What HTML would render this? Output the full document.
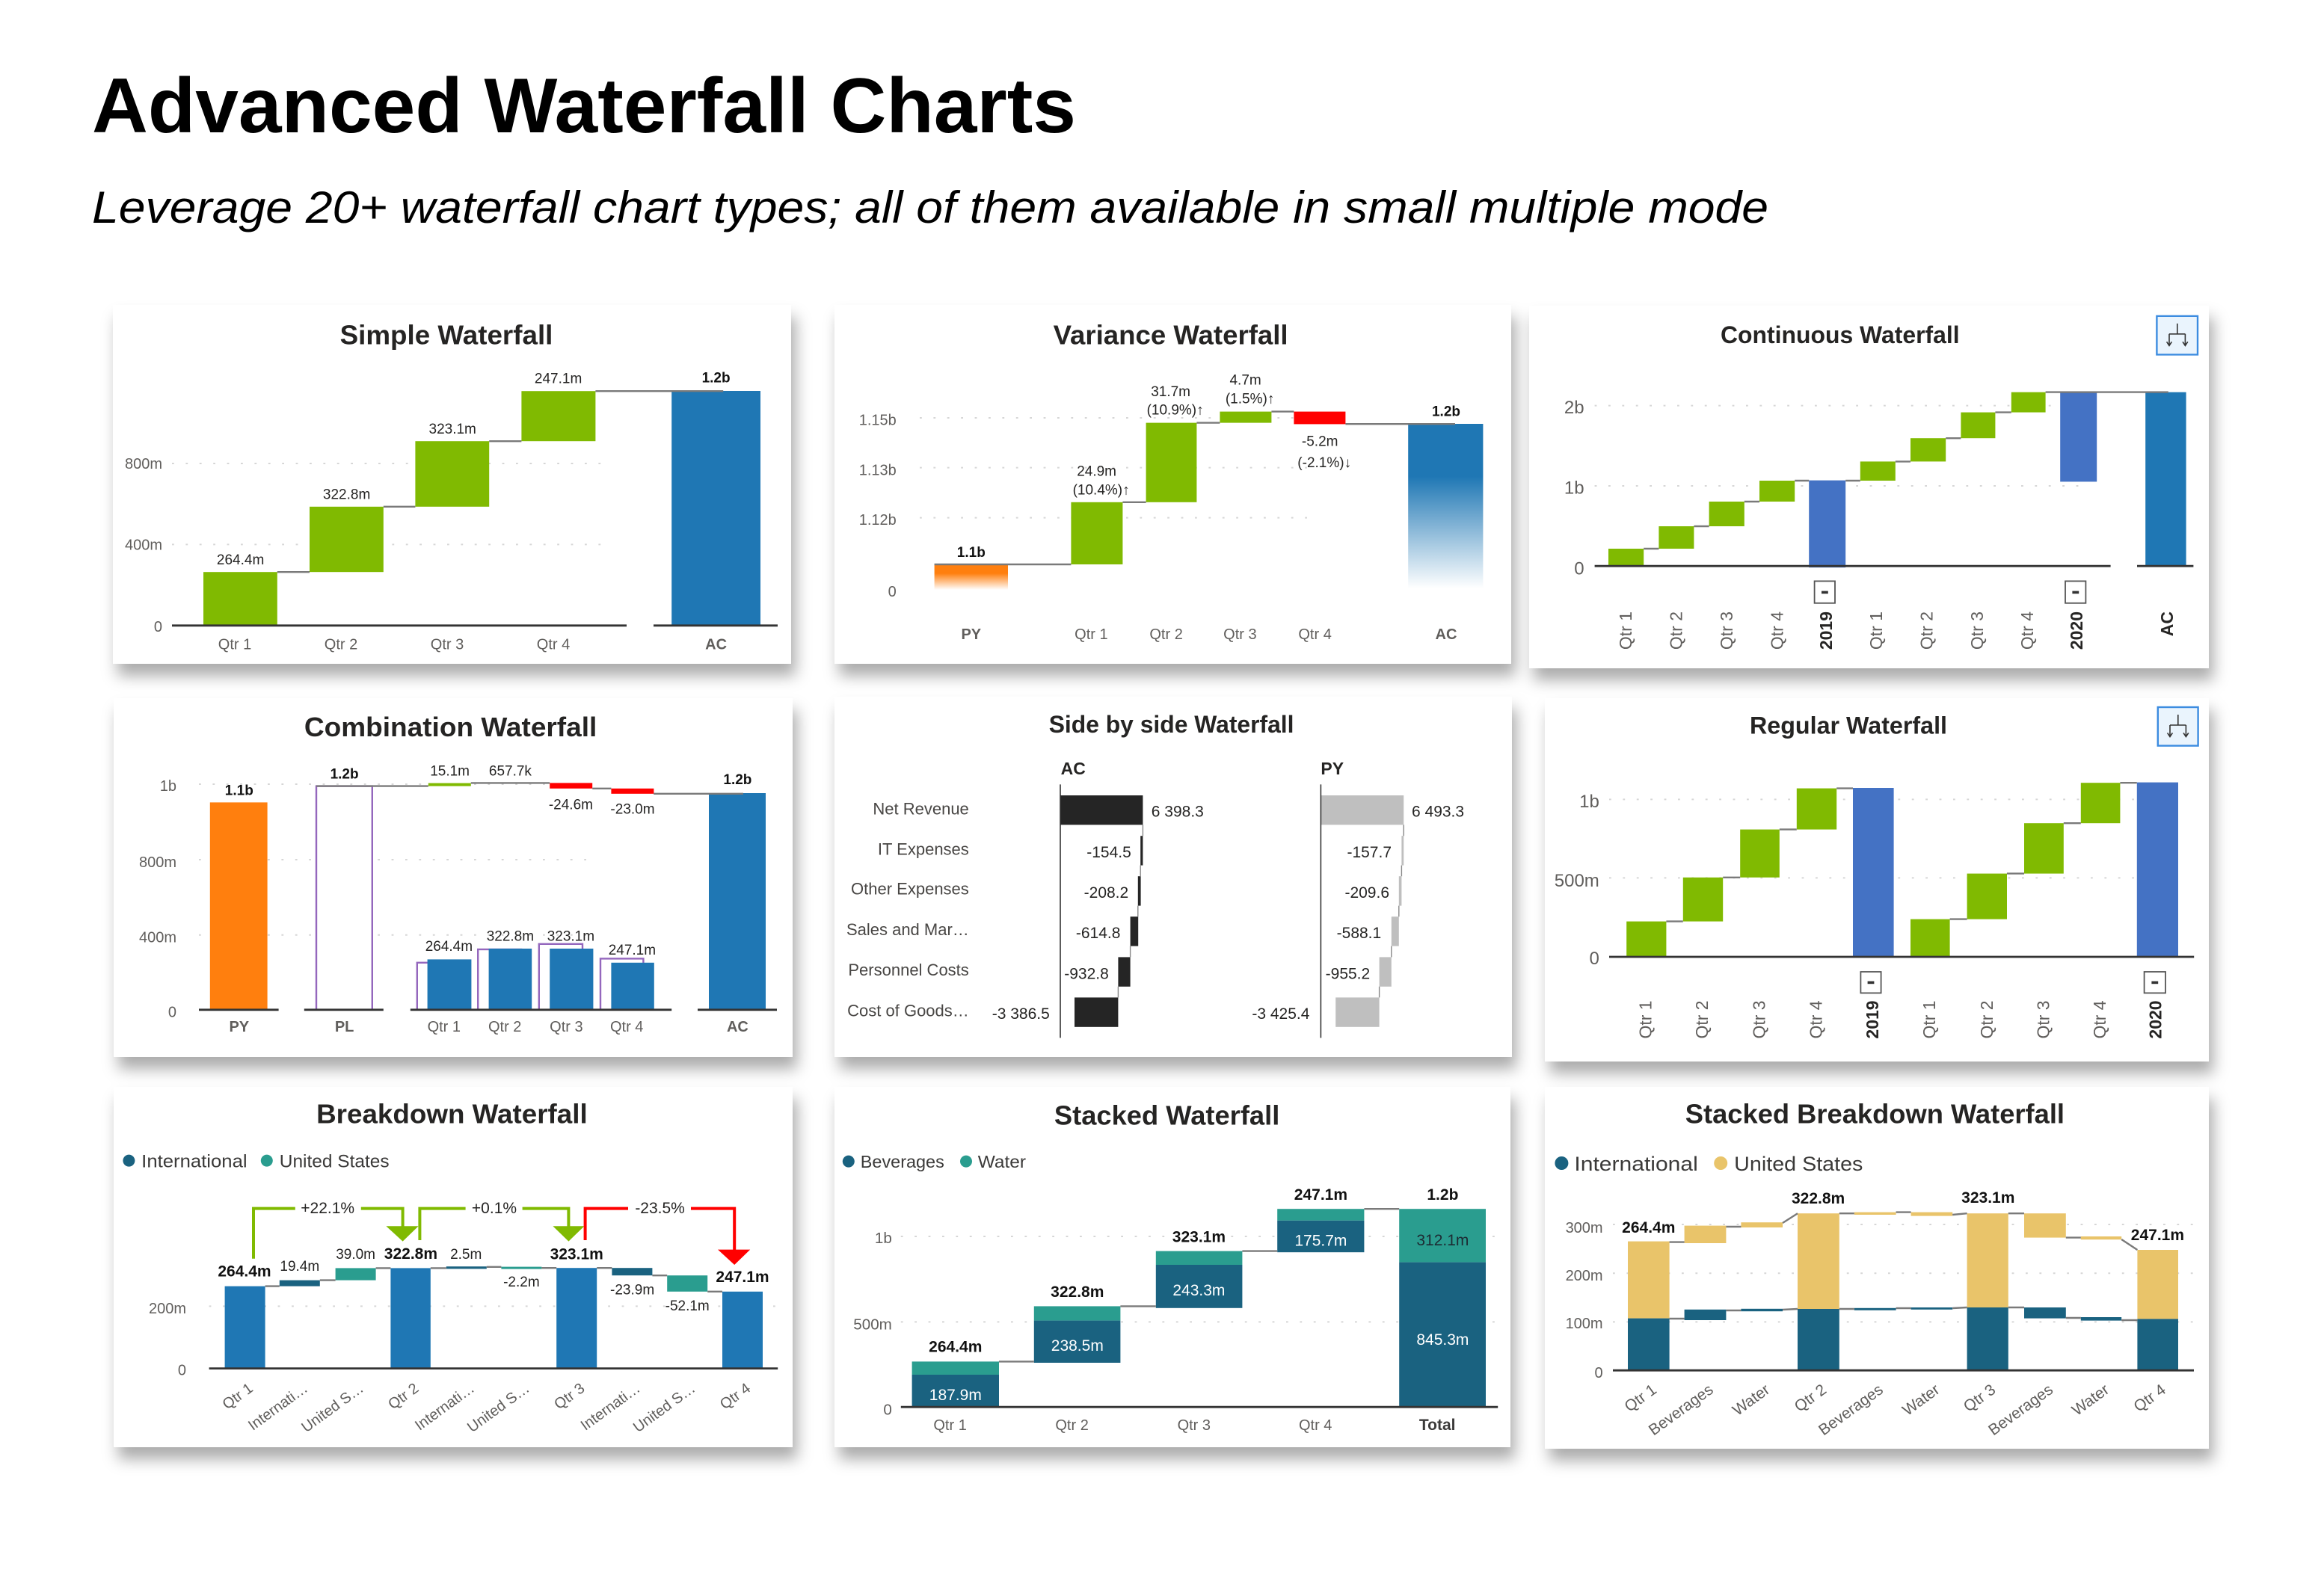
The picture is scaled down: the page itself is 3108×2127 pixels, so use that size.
<!DOCTYPE html>
<html><head><meta charset="utf-8">
<style>
html,body{margin:0;padding:0;background:#fff;}
body{width:3108px;height:2127px;overflow:hidden;}
svg{display:block;}
text{font-family:"Liberation Sans",Arial,sans-serif;}
.t{font-weight:bold;font-size:18px;fill:#252423;text-anchor:middle;}
.ay{font-size:10px;fill:#605E5C;text-anchor:end;}
.v{font-size:9.5px;fill:#252423;text-anchor:middle;}
.b{font-weight:bold;fill:#111;}
.xl{font-size:10px;fill:#605E5C;text-anchor:middle;}
.grid{stroke:#d6d6d6;stroke-width:1;stroke-dasharray:1.4 7.8;fill:none;}
.base{stroke:#333;stroke-width:1.4;}
.con{stroke:#7a7a7a;stroke-width:1.2;fill:none;}
.g{fill:#80BA01;}
.bl{fill:#1F77B4;}
.sb{fill:#4472C4;}
.rd{fill:#FF0000;}
.dk{fill:#1A6280;}
.tl{fill:#2A9D8F;}
.gd{fill:#E9C46A;}
.rot{font-size:11.5px;fill:#605E5C;text-anchor:end;}
.rotb{font-size:11.5px;fill:#252423;text-anchor:end;font-weight:bold;}
.r36{font-size:10px;fill:#605E5C;text-anchor:end;}
.lg{fill:#3b3a39;}
.row{font-size:11px;fill:#484644;text-anchor:end;}
.sv{font-size:10.5px;fill:#252423;}
</style></head><body>
<svg width="3108" height="2127" viewBox="0 0 1554 1063.5" xmlns="http://www.w3.org/2000/svg">
<defs>
<filter id="sh" x="-10%" y="-10%" width="125%" height="135%">
<feDropShadow dx="3" dy="8" stdDeviation="5" flood-color="#000" flood-opacity="0.33"/>
</filter>
<linearGradient id="og" x1="0" y1="0" x2="0" y2="1"><stop offset="0" stop-color="#FF7F0E"/><stop offset="0.35" stop-color="#FF7F0E"/><stop offset="1" stop-color="#FF7F0E" stop-opacity="0"/></linearGradient>
<linearGradient id="bgr" x1="0" y1="0" x2="0" y2="1"><stop offset="0" stop-color="#1F77B4"/><stop offset="0.32" stop-color="#1F77B4"/><stop offset="1" stop-color="#1F77B4" stop-opacity="0"/></linearGradient>
</defs>

<!-- Header -->
<text x="61.5" y="88.5" font-size="52" font-weight="bold" fill="#000" textLength="658" lengthAdjust="spacingAndGlyphs">Advanced Waterfall Charts</text>
<text x="61.5" y="149" font-size="30" font-style="italic" fill="#000" textLength="1121" lengthAdjust="spacingAndGlyphs">Leverage 20+ waterfall chart types; all of them available in small multiple mode</text>

<!-- Panels -->
<g filter="url(#sh)" fill="#fff">
<rect x="75.5" y="204" width="453.5" height="240"/>
<rect x="558" y="204" width="452.5" height="240"/>
<rect x="1022.5" y="204.5" width="454.5" height="242.5"/>
<rect x="76" y="467" width="454" height="240"/>
<rect x="558" y="466" width="453" height="241"/>
<rect x="1033" y="467" width="444" height="243"/>
<rect x="76" y="727" width="454" height="241"/>
<rect x="558" y="727" width="452" height="241"/>
<rect x="1033" y="727" width="444" height="242"/>
</g>

<!-- P1 Simple -->
<text class="t" x="298.5" y="230.3" textLength="142.4" lengthAdjust="spacingAndGlyphs">Simple Waterfall</text>
<line class="grid" x1="115" x2="403" y1="310" y2="310"/>
<line class="grid" x1="115" x2="403" y1="364.2" y2="364.2"/>
<text class="ay" x="108.5" y="313.6">800m</text>
<text class="ay" x="108.5" y="367.8">400m</text>
<text class="ay" x="108.5" y="422.6">0</text>
<rect class="g" x="136" y="382.6" width="49.4" height="35.8"/>
<rect class="g" x="207" y="338.9" width="49.4" height="43.7"/>
<rect class="g" x="277.7" y="295.1" width="49.4" height="43.8"/>
<rect class="g" x="348.7" y="261.6" width="49.5" height="33.5"/>
<rect class="bl" x="449.1" y="261.5" width="59.4" height="156.9"/>
<path class="con" d="M185.4 382.6H207M256.4 338.9H277.7M327.1 295.1H348.7M398.2 261.6H483.6"/>
<line class="base" x1="115" x2="419" y1="418.4" y2="418.4"/>
<line class="base" x1="437" x2="520" y1="418.4" y2="418.4"/>
<text class="v" x="160.8" y="377.5">264.4m</text>
<text class="v" x="231.8" y="333.8">322.8m</text>
<text class="v" x="302.6" y="290">323.1m</text>
<text class="v" x="373.3" y="256.2">247.1m</text>
<text class="v b" x="478.8" y="255.8">1.2b</text>
<text class="xl" x="157" y="434.2">Qtr 1</text>
<text class="xl" x="228" y="434.2">Qtr 2</text>
<text class="xl" x="299" y="434.2">Qtr 3</text>
<text class="xl" x="370" y="434.2">Qtr 4</text>
<text class="xl b" x="478.8" y="434.2">AC</text>

<!-- P2 Variance -->
<text class="t" x="782.8" y="230.3" textLength="157" lengthAdjust="spacingAndGlyphs">Variance Waterfall</text>
<line class="grid" x1="615" x2="880" y1="279.5" y2="279.5"/>
<line class="grid" x1="615" x2="880" y1="312.8" y2="312.8"/>
<line class="grid" x1="615" x2="880" y1="346.3" y2="346.3"/>
<text class="ay" x="599.4" y="284.3">1.15b</text>
<text class="ay" x="599.4" y="317.7">1.13b</text>
<text class="ay" x="599.4" y="351">1.12b</text>
<text class="ay" x="599.4" y="398.9">0</text>
<rect x="624.8" y="377.5" width="49.2" height="17" fill="url(#og)"/>
<rect class="g" x="716.2" y="335.9" width="34.5" height="41.6"/>
<rect class="g" x="766.3" y="282.8" width="33.9" height="53.1"/>
<rect class="g" x="815.7" y="275.3" width="34.5" height="7.5"/>
<rect class="rd" x="865.2" y="275.3" width="34.5" height="8.4"/>
<rect x="941.6" y="283.5" width="50.1" height="110" fill="url(#bgr)"/>
<path class="con" d="M624.8 377.5H716.2M750.7 335.9H766.3M800.2 282.8H815.7M850.2 275.3H865.2M899.7 283.6H973"/>
<text class="v b" x="649.4" y="372.5">1.1b</text>
<text class="v" x="733.3" y="318.3">24.9m</text>
<text class="v" x="736.3" y="330.8">(10.4%)↑</text>
<text class="v" x="782.8" y="265">31.7m</text>
<text class="v" x="785.8" y="277.2">(10.9%)↑</text>
<text class="v" x="832.8" y="257.2">4.7m</text>
<text class="v" x="835.8" y="269.7">(1.5%)↑</text>
<text class="v" x="882.6" y="298.3">-5.2m</text>
<text class="v" x="885.6" y="312.5">(-2.1%)↓</text>
<text class="v b" x="967" y="278.3">1.2b</text>
<text class="xl b" x="649.4" y="427.5">PY</text>
<text class="xl" x="729.7" y="427.5">Qtr 1</text>
<text class="xl" x="779.8" y="427.5">Qtr 2</text>
<text class="xl" x="829.2" y="427.5">Qtr 3</text>
<text class="xl" x="879.3" y="427.5">Qtr 4</text>
<text class="xl b" x="967" y="427.5">AC</text>

<!-- P3 Continuous -->
<text class="t" x="1230.4" y="229.4" style="font-size:16px" textLength="159.8" lengthAdjust="spacingAndGlyphs">Continuous Waterfall</text>
<g>
<rect x="1442.2" y="211.4" width="27.3" height="25.8" fill="#EAF4FD" stroke="#3C8CE0" stroke-width="1.2"/>
<path d="M1455.9 216.4V223.4M1450.5 223.4H1461.2M1450.5 223.4V231M1461.2 223.4V231M1448.8 228.6L1450.5 231.2L1452.2 228.6M1459.5 228.6L1461.2 231.2L1462.9 228.6" stroke="#333" stroke-width="0.8" fill="none"/>
</g>
<line class="grid" x1="1066.3" x2="1392" y1="271.3" y2="271.3"/>
<line class="grid" x1="1066.3" x2="1392" y1="325" y2="325"/>
<text class="ay" x="1059.3" y="276.6" style="font-size:12px">2b</text>
<text class="ay" x="1059.3" y="330.3" style="font-size:12px">1b</text>
<text class="ay" x="1059.3" y="384.3" style="font-size:12px">0</text>
<rect class="g" x="1075.5" y="367" width="23.6" height="11.6"/>
<rect class="g" x="1109.2" y="352" width="23.5" height="15"/>
<rect class="g" x="1142.8" y="335.5" width="23.6" height="16.5"/>
<rect class="g" x="1176.5" y="321.5" width="23.6" height="14"/>
<rect class="sb" x="1209.6" y="321.3" width="24.5" height="58.3"/>
<rect class="g" x="1243.9" y="308.7" width="23.5" height="12.8"/>
<rect class="g" x="1277.5" y="293.1" width="23.6" height="15.6"/>
<rect class="g" x="1311.2" y="275.8" width="23" height="17.3"/>
<rect class="g" x="1344.9" y="262.3" width="22.9" height="13.5"/>
<rect class="sb" x="1377.6" y="262.3" width="24.5" height="59.9"/>
<rect class="bl" x="1434.6" y="262.3" width="27.2" height="116.3"/>
<path class="con" d="M1099.1 367H1109.2M1132.7 352H1142.8M1166.4 335.5H1176.5M1200.1 321.5H1209.6M1234.1 321.5H1243.9M1267.4 308.7H1277.5M1301.1 293.1H1311.2M1334.2 275.8H1344.9M1367.8 262.3H1449.9"/>
<line class="base" x1="1066.3" x2="1411.3" y1="378.6" y2="378.6"/>
<line class="base" x1="1429" x2="1466.7" y1="378.6" y2="378.6"/>
<rect x="1213.3" y="388.7" width="13.7" height="14.7" fill="#fff" stroke="#555" stroke-width="0.9"/>
<rect x="1218" y="395.3" width="4.4" height="1.8" fill="#333"/>
<rect x="1381" y="388.7" width="13.7" height="14.7" fill="#fff" stroke="#555" stroke-width="0.9"/>
<rect x="1385.7" y="395.3" width="4.4" height="1.8" fill="#333"/>
<text class="rot" transform="translate(1091.1 409) rotate(-90)">Qtr 1</text>
<text class="rot" transform="translate(1124.8 409) rotate(-90)">Qtr 2</text>
<text class="rot" transform="translate(1158.5 409) rotate(-90)">Qtr 3</text>
<text class="rot" transform="translate(1192.2 409) rotate(-90)">Qtr 4</text>
<text class="rotb" transform="translate(1224.9 409) rotate(-90)">2019</text>
<text class="rot" transform="translate(1258.6 409) rotate(-90)">Qtr 1</text>
<text class="rot" transform="translate(1292.3 409) rotate(-90)">Qtr 2</text>
<text class="rot" transform="translate(1325.9 409) rotate(-90)">Qtr 3</text>
<text class="rot" transform="translate(1359.6 409) rotate(-90)">Qtr 4</text>
<text class="rotb" transform="translate(1392.6 409) rotate(-90)">2020</text>
<text class="rotb" transform="translate(1453 409) rotate(-90)">AC</text>

<!-- P4 Combination -->
<text class="t" x="301.3" y="492.5" textLength="195.7" lengthAdjust="spacingAndGlyphs">Combination Waterfall</text>
<line class="grid" x1="133" x2="393.7" y1="524.5" y2="524.5"/>
<line class="grid" x1="133" x2="393.7" y1="575" y2="575"/>
<line class="grid" x1="133" x2="393.7" y1="625.4" y2="625.4"/>
<text class="ay" x="118" y="528.9">1b</text>
<text class="ay" x="118" y="579.9">800m</text>
<text class="ay" x="118" y="630.3">400m</text>
<text class="ay" x="118" y="680.3">0</text>
<rect x="140.4" y="536.7" width="38.4" height="138.7" fill="#FF7F0E"/>
<rect x="211.5" y="525.8" width="37.4" height="149.6" fill="#fff" stroke="#9467BD" stroke-width="1.2"/>
<rect class="g" x="286.4" y="523.8" width="28.5" height="2"/>
<rect class="rd" x="367.6" y="523.7" width="28.5" height="3.7"/>
<rect class="rd" x="408.7" y="527.4" width="28.5" height="3.5"/>
<rect class="bl" x="474" y="530.5" width="38" height="144.9"/>
<path class="con" d="M211.5 525.8H286.4M314.9 523.7H367.6M396.1 527.4H408.7M437.1 530.9H497"/>
<g fill="#fff" stroke="#9467BD" stroke-width="1.2">
<rect x="278.9" y="643.9" width="29.4" height="31.5"/>
<rect x="319.6" y="635" width="29" height="40.4"/>
<rect x="360.4" y="631.4" width="29.1" height="44"/>
<rect x="401.5" y="641.2" width="28.7" height="34.2"/>
</g>
<rect class="bl" x="285.8" y="641.7" width="29.4" height="33.7"/>
<rect class="bl" x="326.8" y="634.5" width="28.8" height="40.9"/>
<rect class="bl" x="367.6" y="634.5" width="29.1" height="40.9"/>
<rect class="bl" x="408.7" y="643.9" width="28.7" height="31.5"/>
<line class="base" x1="133" x2="186.3" y1="675.4" y2="675.4"/>
<line class="base" x1="203.4" x2="256.4" y1="675.4" y2="675.4"/>
<line class="base" x1="274.4" x2="449.1" y1="675.4" y2="675.4"/>
<line class="base" x1="466.5" x2="519.5" y1="675.4" y2="675.4"/>
<text class="v b" x="159.9" y="531.7">1.1b</text>
<text class="v b" x="230.3" y="520.8">1.2b</text>
<text class="v" x="300.8" y="518.7">15.1m</text>
<text class="v" x="341.2" y="518.7">657.7k</text>
<text class="v" x="381.7" y="541.3">-24.6m</text>
<text class="v" x="423" y="544.2">-23.0m</text>
<text class="v b" x="493.2" y="524.5">1.2b</text>
<text class="v" x="300.2" y="635.9">264.4m</text>
<text class="v" x="341.2" y="629.2">322.8m</text>
<text class="v" x="381.7" y="629.2">323.1m</text>
<text class="v" x="422.7" y="638.4">247.1m</text>
<text class="xl b" x="159.9" y="690">PY</text>
<text class="xl b" x="230.3" y="690">PL</text>
<text class="xl" x="296.9" y="690">Qtr 1</text>
<text class="xl" x="337.6" y="690">Qtr 2</text>
<text class="xl" x="378.7" y="690">Qtr 3</text>
<text class="xl" x="419.1" y="690">Qtr 4</text>
<text class="xl b" x="493.2" y="690">AC</text>

<!-- P5 Side by side -->
<text class="t" x="783.3" y="490" style="font-size:16px" textLength="163.9" lengthAdjust="spacingAndGlyphs">Side by side Waterfall</text>
<text x="709.3" y="518" font-size="11.5" font-weight="bold" fill="#252423">AC</text>
<text x="883.2" y="518" font-size="11.5" font-weight="bold" fill="#252423">PY</text>
<text class="row" x="647.9" y="544.7">Net Revenue</text>
<text class="row" x="647.9" y="571.7">IT Expenses</text>
<text class="row" x="647.9" y="598.3">Other Expenses</text>
<text class="row" x="647.9" y="625.4">Sales and Mar…</text>
<text class="row" x="647.9" y="652.5">Personnel Costs</text>
<text class="row" x="647.9" y="679.7">Cost of Goods…</text>
<g fill="#252525">
<rect x="709" y="532" width="55.2" height="19.7"/>
<rect x="762.6" y="559.1" width="1.6" height="19.7"/>
<rect x="760.9" y="586.1" width="1.9" height="19.7"/>
<rect x="755.8" y="613.1" width="5.3" height="19.7"/>
<rect x="747.7" y="640.2" width="8.1" height="19.7"/>
<rect x="718.5" y="667.2" width="29.2" height="19.7"/>
</g>
<g fill="#BFBFBF">
<rect x="883.2" y="532" width="55.4" height="19.7"/>
<rect x="937.2" y="559.1" width="1.4" height="19.7"/>
<rect x="935.4" y="586.1" width="1.8" height="19.7"/>
<rect x="930.4" y="613.1" width="5" height="19.7"/>
<rect x="922.3" y="640.2" width="8.1" height="19.7"/>
<rect x="893.1" y="667.2" width="29.2" height="19.7"/>
</g>
<path d="M764.2 551.7V559.1M762.6 578.8V586.1M760.9 605.8V613.1M755.8 632.8V640.2M747.7 659.9V667.2M938.6 551.7V559.1M937.2 578.8V586.1M935.4 605.8V613.1M930.4 632.8V640.2M922.3 659.9V667.2" stroke="#888" stroke-width="0.7"/>
<line x1="709" x2="709" y1="524.7" y2="694.2" stroke="#333" stroke-width="0.8"/>
<line x1="883.2" x2="883.2" y1="524.7" y2="694.2" stroke="#333" stroke-width="0.8"/>
<text class="sv" x="769.9" y="546.3">6 398.3</text>
<text class="sv" x="756.4" y="573.4" text-anchor="end">-154.5</text>
<text class="sv" x="754.6" y="600.4" text-anchor="end">-208.2</text>
<text class="sv" x="749.2" y="627.5" text-anchor="end">-614.8</text>
<text class="sv" x="741.4" y="654.7" text-anchor="end">-932.8</text>
<text class="sv" x="701.9" y="681.4" text-anchor="end">-3 386.5</text>
<text class="sv" x="944" y="546.3">6 493.3</text>
<text class="sv" x="930.5" y="573.4" text-anchor="end">-157.7</text>
<text class="sv" x="929" y="600.4" text-anchor="end">-209.6</text>
<text class="sv" x="923.6" y="627.5" text-anchor="end">-588.1</text>
<text class="sv" x="916.1" y="654.7" text-anchor="end">-955.2</text>
<text class="sv" x="875.7" y="681.4" text-anchor="end">-3 425.4</text>

<!-- P6 Regular -->
<text class="t" x="1236" y="490.8" style="font-size:16px" textLength="132" lengthAdjust="spacingAndGlyphs">Regular Waterfall</text>
<g>
<rect x="1442.9" y="473" width="26.9" height="25.8" fill="#EAF4FD" stroke="#3C8CE0" stroke-width="1.2"/>
<path d="M1456.4 478V485M1451 485H1461.7M1451 485V492.6M1461.7 485V492.6M1449.3 490.2L1451 492.8L1452.7 490.2M1460 490.2L1461.7 492.8L1463.4 490.2" stroke="#333" stroke-width="0.8" fill="none"/>
</g>
<line class="grid" x1="1076" x2="1428" y1="534.7" y2="534.7"/>
<line class="grid" x1="1076" x2="1428" y1="587.2" y2="587.2"/>
<text class="ay" x="1069.4" y="540" style="font-size:12px">1b</text>
<text class="ay" x="1069.4" y="592.9" style="font-size:12px">500m</text>
<text class="ay" x="1069.4" y="645.1" style="font-size:12px">0</text>
<rect class="g" x="1087.6" y="616.3" width="26.6" height="23.7"/>
<rect class="g" x="1125.4" y="586.9" width="26.7" height="29.4"/>
<rect class="g" x="1163.6" y="554.8" width="26.3" height="32.1"/>
<rect class="g" x="1201.4" y="527.3" width="26.7" height="27.5"/>
<rect class="sb" x="1239" y="527" width="27.3" height="113.5"/>
<rect class="g" x="1277.5" y="614.8" width="26.3" height="25.2"/>
<rect class="g" x="1315.3" y="584.3" width="26.7" height="30.5"/>
<rect class="g" x="1353.5" y="550.6" width="26.4" height="33.7"/>
<rect class="g" x="1391.4" y="523.6" width="26.3" height="27"/>
<rect class="sb" x="1428.9" y="523.3" width="27.6" height="117.2"/>
<path class="con" d="M1114.2 616.3H1125.4M1152.1 586.9H1163.6M1189.9 554.8H1201.4M1228.1 527.3H1239M1303.8 614.8H1315.3M1342 584.3H1353.5M1379.9 550.6H1391.4M1417.7 523.6H1428.9"/>
<line class="base" x1="1076" x2="1467.1" y1="640" y2="640"/>
<rect x="1244.2" y="650" width="13.6" height="14.2" fill="#fff" stroke="#555" stroke-width="0.9"/>
<rect x="1248.8" y="656.3" width="4.4" height="1.8" fill="#333"/>
<rect x="1433.8" y="650" width="14.2" height="14.2" fill="#fff" stroke="#555" stroke-width="0.9"/>
<rect x="1438.7" y="656.3" width="4.4" height="1.8" fill="#333"/>
<text class="rot" transform="translate(1104.3 669.2) rotate(-90)">Qtr 1</text>
<text class="rot" transform="translate(1142.1 669.2) rotate(-90)">Qtr 2</text>
<text class="rot" transform="translate(1180.3 669.2) rotate(-90)">Qtr 3</text>
<text class="rot" transform="translate(1218.2 669.2) rotate(-90)">Qtr 4</text>
<text class="rotb" transform="translate(1256 669.2) rotate(-90)">2019</text>
<text class="rot" transform="translate(1293.9 669.2) rotate(-90)">Qtr 1</text>
<text class="rot" transform="translate(1332.4 669.2) rotate(-90)">Qtr 2</text>
<text class="rot" transform="translate(1370.2 669.2) rotate(-90)">Qtr 3</text>
<text class="rot" transform="translate(1408.1 669.2) rotate(-90)">Qtr 4</text>
<text class="rotb" transform="translate(1445.3 669.2) rotate(-90)">2020</text>

<!-- P7 Breakdown -->
<text class="t" x="302.2" y="751.3" textLength="181.3" lengthAdjust="spacingAndGlyphs">Breakdown Waterfall</text>
<circle cx="86.2" cy="776.3" r="4" class="dk"/>
<text x="94.6" y="780.7" font-size="12" class="lg" textLength="70.7" lengthAdjust="spacingAndGlyphs">International</text>
<circle cx="178.4" cy="776.3" r="4" class="tl"/>
<text x="186.9" y="780.7" font-size="12" class="lg" textLength="73.4" lengthAdjust="spacingAndGlyphs">United States</text>
<line class="grid" x1="139.8" x2="520" y1="873.7" y2="873.7"/>
<text class="ay" x="124.5" y="878.4">200m</text>
<text class="ay" x="124.5" y="919.7">0</text>
<rect class="bl" x="150.3" y="860.3" width="27" height="55"/>
<rect class="dk" x="186.9" y="856.3" width="27" height="4"/>
<rect class="tl" x="224.3" y="848.2" width="27" height="8.1"/>
<rect class="bl" x="261.2" y="848.2" width="26.7" height="67.1"/>
<rect class="dk" x="298.4" y="847.1" width="27" height="1.6"/>
<rect class="tl" x="335.2" y="847.3" width="27" height="1.5"/>
<rect class="bl" x="372.1" y="848.1" width="27" height="67.2"/>
<rect class="dk" x="409.2" y="848.1" width="27" height="5"/>
<rect class="tl" x="446.1" y="853.1" width="27" height="10.8"/>
<rect class="bl" x="483" y="863.9" width="27" height="51.4"/>
<path class="con" d="M177.3 860.3H186.9M213.9 856.3H224.3M251.3 848.2H261.2M287.9 848.2H298.4M325.4 847.4H335.2M362.2 848.1H372.1M399.1 848.1H409.2M436.2 853.1H446.1M473.1 863.9H483"/>
<line class="base" x1="139.8" x2="520.1" y1="915.3" y2="915.3"/>
<path d="M169.5 841.9V808.3H197.4M241.4 808.3H269.3V821M280.7 829.5V808.3H311.3M349.3 808.3H380.2V821" stroke="#80BA01" stroke-width="2" fill="none"/>
<polygon points="258.2,820.1 279.8,820.1 269.3,830.3" fill="#80BA01"/>
<polygon points="369.7,820.1 390.7,820.1 380.2,830.3" fill="#80BA01"/>
<path d="M391.3 829.5V808.3H420M462 808.3H491.1V836.5" stroke="#FF0000" stroke-width="2" fill="none"/>
<polygon points="480,835.8 501.6,835.8 491.1,846" fill="#FF0000"/>
<text class="v" x="219.1" y="811.6" style="font-size:10.5px">+22.1%</text>
<text class="v" x="330.5" y="811.6" style="font-size:10.5px">+0.1%</text>
<text class="v" x="441.3" y="811.6" style="font-size:10.5px">-23.5%</text>
<text class="v b" x="163.5" y="853.8" style="font-size:10.5px">264.4m</text>
<text class="v" x="200.4" y="849.9">19.4m</text>
<text class="v" x="237.8" y="841.9">39.0m</text>
<text class="v b" x="274.7" y="841.9" style="font-size:10.5px">322.8m</text>
<text class="v" x="311.6" y="841.9">2.5m</text>
<text class="v" x="348.7" y="860.6">-2.2m</text>
<text class="v b" x="385.6" y="842.2" style="font-size:10.5px">323.1m</text>
<text class="v" x="422.8" y="865.7">-23.9m</text>
<text class="v" x="459.6" y="876.6">-52.1m</text>
<text class="v b" x="496.5" y="857.5" style="font-size:10.5px">247.1m</text>
<text class="r36" transform="translate(169.8 930) rotate(-36)">Qtr 1</text>
<text class="r36" transform="translate(206.4 930) rotate(-36)">Internati…</text>
<text class="r36" transform="translate(243.8 930) rotate(-36)">United S…</text>
<text class="r36" transform="translate(280.6 930) rotate(-36)">Qtr 2</text>
<text class="r36" transform="translate(317.9 930) rotate(-36)">Internati…</text>
<text class="r36" transform="translate(354.7 930) rotate(-36)">United S…</text>
<text class="r36" transform="translate(391.6 930) rotate(-36)">Qtr 3</text>
<text class="r36" transform="translate(428.7 930) rotate(-36)">Internati…</text>
<text class="r36" transform="translate(465.6 930) rotate(-36)">United S…</text>
<text class="r36" transform="translate(502.5 930) rotate(-36)">Qtr 4</text>

<!-- P8 Stacked -->
<text class="t" x="780.3" y="752.2" textLength="150.7" lengthAdjust="spacingAndGlyphs">Stacked Waterfall</text>
<circle cx="567.4" cy="776.8" r="4" class="dk"/>
<text x="575.4" y="781" font-size="11.5" class="lg" textLength="56" lengthAdjust="spacingAndGlyphs">Beverages</text>
<circle cx="646" cy="776.8" r="4" class="tl"/>
<text x="653.9" y="781" font-size="11.5" class="lg" textLength="32.1" lengthAdjust="spacingAndGlyphs">Water</text>
<line class="grid" x1="602.4" x2="1001.6" y1="827" y2="827"/>
<line class="grid" x1="602.4" x2="1001.6" y1="884.2" y2="884.2"/>
<text class="ay" x="596.4" y="831.5" style="font-size:10.3px">1b</text>
<text class="ay" x="596.4" y="889.3" style="font-size:10.3px">500m</text>
<text class="ay" x="596.4" y="946.2" style="font-size:10.3px">0</text>
<rect class="tl" x="609.8" y="910.7" width="58.2" height="8.8"/>
<rect class="dk" x="609.8" y="919.5" width="58.2" height="21.6"/>
<rect class="tl" x="691.4" y="873.7" width="57.8" height="9.6"/>
<rect class="dk" x="691.4" y="883.3" width="57.8" height="28.2"/>
<rect class="tl" x="772.9" y="836.8" width="57.8" height="9.2"/>
<rect class="dk" x="772.9" y="846" width="57.8" height="28.9"/>
<rect class="tl" x="854.1" y="808.6" width="58.1" height="7.8"/>
<rect class="dk" x="854.1" y="816.4" width="58.1" height="21.2"/>
<rect class="tl" x="935.6" y="808.6" width="57.9" height="35.7"/>
<rect class="dk" x="935.6" y="844.3" width="57.9" height="96.8"/>
<path class="con" d="M668 910.7H691.4M749.2 873.7H772.9M830.7 836.8H854.1M912.2 808.6H935.6"/>
<line class="base" x1="602.4" x2="1001.6" y1="941.1" y2="941.1"/>
<text class="v b" x="638.9" y="904.2" style="font-size:10.5px">264.4m</text>
<text class="v b" x="720.4" y="867.4" style="font-size:10.5px">322.8m</text>
<text class="v b" x="801.7" y="830.7" style="font-size:10.5px">323.1m</text>
<text class="v b" x="883.2" y="802.6" style="font-size:10.5px">247.1m</text>
<text class="v b" x="964.7" y="802.6" style="font-size:10.5px">1.2b</text>
<text class="v" x="638.9" y="936.5" style="font-size:10.5px;fill:#fff">187.9m</text>
<text class="v" x="720.4" y="903.4" style="font-size:10.5px;fill:#fff">238.5m</text>
<text class="v" x="801.7" y="866.4" style="font-size:10.5px;fill:#fff">243.3m</text>
<text class="v" x="883.2" y="833.2" style="font-size:10.5px;fill:#fff">175.7m</text>
<text class="v" x="964.7" y="832.9" style="font-size:10.5px;fill:#1d2b33">312.1m</text>
<text class="v" x="964.7" y="899.5" style="font-size:10.5px;fill:#fff">845.3m</text>
<text class="xl" x="635.3" y="956.4">Qtr 1</text>
<text class="xl" x="716.8" y="956.4">Qtr 2</text>
<text class="xl" x="798.4" y="956.4">Qtr 3</text>
<text class="xl" x="879.6" y="956.4">Qtr 4</text>
<text class="xl b" x="961.1" y="956.4" style="font-size:10.5px;fill:#3b3a39">Total</text>

<!-- P9 Stacked Breakdown -->
<text class="t" x="1253.7" y="751.3" textLength="253.6" lengthAdjust="spacingAndGlyphs">Stacked Breakdown Waterfall</text>
<circle cx="1044.2" cy="778" r="4.5" class="dk"/>
<text x="1052.7" y="783.1" font-size="13.5" class="lg" textLength="82.7" lengthAdjust="spacingAndGlyphs">International</text>
<circle cx="1150.6" cy="778" r="4.5" class="gd"/>
<text x="1159.6" y="783.1" font-size="13.5" class="lg" textLength="86.1" lengthAdjust="spacingAndGlyphs">United States</text>
<line class="grid" x1="1078.5" x2="1467" y1="819" y2="819"/>
<line class="grid" x1="1078.5" x2="1467" y1="851.6" y2="851.6"/>
<line class="grid" x1="1078.5" x2="1467" y1="884.2" y2="884.2"/>
<text class="ay" x="1071.8" y="824.6">300m</text>
<text class="ay" x="1071.8" y="856.4">200m</text>
<text class="ay" x="1071.8" y="888.6">100m</text>
<text class="ay" x="1071.8" y="921.4">0</text>
<rect class="gd" x="1088.5" y="830.3" width="27.8" height="51.5"/>
<rect class="dk" x="1088.5" y="881.8" width="27.8" height="34.8"/>
<rect class="gd" x="1126.3" y="819.8" width="27.9" height="11.7"/>
<rect class="dk" x="1126.3" y="875.9" width="27.9" height="7.1"/>
<rect class="gd" x="1164.2" y="817.6" width="27.8" height="3.4"/>
<rect class="dk" x="1164.2" y="875.4" width="27.8" height="1.7"/>
<rect class="gd" x="1202" y="811.6" width="27.9" height="63.9"/>
<rect class="dk" x="1202" y="875.5" width="27.9" height="41.1"/>
<rect class="gd" x="1239.9" y="810.8" width="27.9" height="1.7"/>
<rect class="dk" x="1239.9" y="874.9" width="27.9" height="1.5"/>
<rect class="gd" x="1277.8" y="810.8" width="27.8" height="2.5"/>
<rect class="dk" x="1277.8" y="874.5" width="27.8" height="1.4"/>
<rect class="gd" x="1315.3" y="811.6" width="27.6" height="62.9"/>
<rect class="dk" x="1315.3" y="874.5" width="27.6" height="42.1"/>
<rect class="gd" x="1353.5" y="811.6" width="27.9" height="16.2"/>
<rect class="dk" x="1353.5" y="874.5" width="27.9" height="7.3"/>
<rect class="gd" x="1391.4" y="827" width="27.2" height="2.1"/>
<rect class="dk" x="1391.4" y="881" width="27.2" height="2.3"/>
<rect class="gd" x="1429.2" y="836" width="27.3" height="46.2"/>
<rect class="dk" x="1429.2" y="882.2" width="27.3" height="34.4"/>
<path class="con" d="M1116.3 830.8H1126.3M1154.2 820.5H1164.2M1192 818L1202 811.6M1229.9 811.6H1239.9M1267.8 810.8H1277.8M1305.6 812.5L1315.3 811.6M1342.9 811.6H1353.5M1381.4 827.8H1391.4M1418.6 829L1429.2 836"/>
<path class="con" d="M1116.3 882H1126.3M1154.2 876.5H1164.2M1192 876L1202 875.5M1229.9 875.5H1239.9M1267.8 875H1277.8M1305.6 875L1315.3 874.5M1342.9 874.5H1353.5M1381.4 881.5H1391.4M1418.6 883H1429.2"/>
<line class="base" x1="1078.5" x2="1467" y1="916.6" y2="916.6"/>
<text class="v b" x="1102.4" y="824.4" style="font-size:10.5px">264.4m</text>
<text class="v b" x="1215.8" y="804.9" style="font-size:10.5px">322.8m</text>
<text class="v b" x="1329.4" y="804.5" style="font-size:10.5px">323.1m</text>
<text class="v b" x="1442.7" y="829.5" style="font-size:10.5px">247.1m</text>
<text class="r36" style="font-size:10.5px" transform="translate(1108.4 931) rotate(-36)">Qtr 1</text>
<text class="r36" style="font-size:10.5px" transform="translate(1146.3 931) rotate(-36)">Beverages</text>
<text class="r36" style="font-size:10.5px" transform="translate(1184.1 931) rotate(-36)">Water</text>
<text class="r36" style="font-size:10.5px" transform="translate(1222 931) rotate(-36)">Qtr 2</text>
<text class="r36" style="font-size:10.5px" transform="translate(1259.9 931) rotate(-36)">Beverages</text>
<text class="r36" style="font-size:10.5px" transform="translate(1297.7 931) rotate(-36)">Water</text>
<text class="r36" style="font-size:10.5px" transform="translate(1335.1 931) rotate(-36)">Qtr 3</text>
<text class="r36" style="font-size:10.5px" transform="translate(1373.5 931) rotate(-36)">Beverages</text>
<text class="r36" style="font-size:10.5px" transform="translate(1411 931) rotate(-36)">Water</text>
<text class="r36" style="font-size:10.5px" transform="translate(1448.9 931) rotate(-36)">Qtr 4</text>
</svg>
</body></html>
